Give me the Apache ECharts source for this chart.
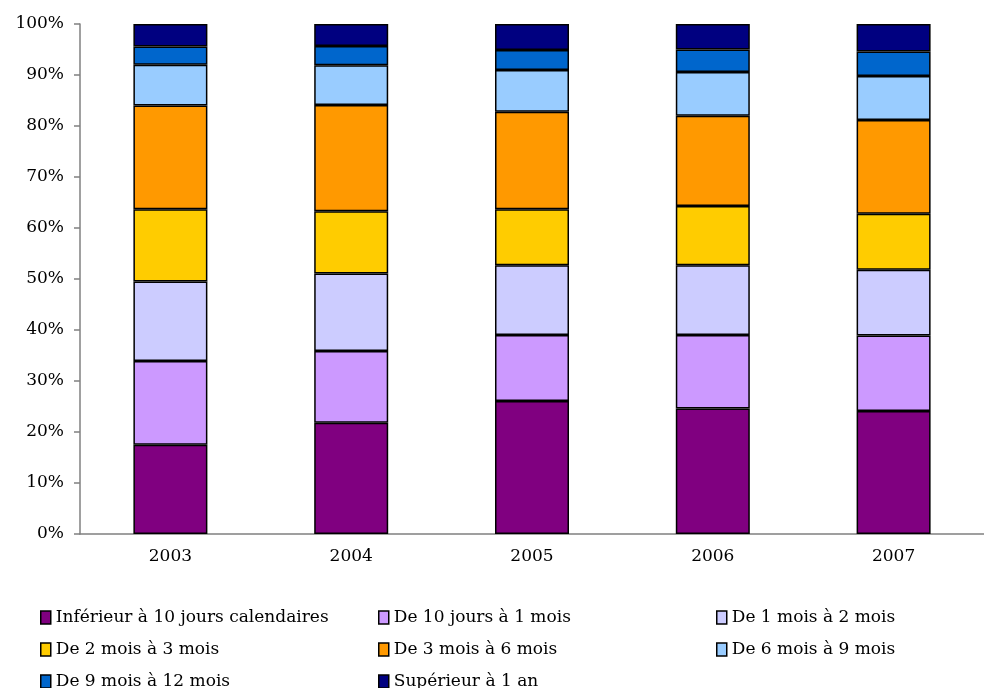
<!DOCTYPE html>
<html lang="fr">
<head>
	<meta charset="UTF-8">
	<title>duree-stacked</title>
	<script src="https://cdn.jsdelivr.net/npm/echarts@6/dist/echarts.min.js"></script>
</head>
<body style="margin:0;background:#fff;">
	<div id="container" style="width:984px;height:688px;"></div>

	<script>
		var years = ['2003', '2004', '2005', '2006', '2007'];
		var seriesNames = [
			'Inférieur à 10 jours calendaires',
			'De 10 jours à 1 mois',
			'De 1 mois à 2 mois',
			'De 2 mois à 3 mois',
			'De 3 mois à 6 mois',
			'De 6 mois à 9 mois',
			'De 9 mois à 12 mois',
			'Supérieur à 1 an'
		];
		var colors = ['#800080', '#cc99ff', '#ccccff', '#ffcc00', '#ff9900', '#99ccff', '#0066cc', '#000080'];

		// parts en % par annee
		var inf10j   = [17.5, 21.8, 26.1, 24.6, 24.1];
		var j10m1    = [16.4, 14.1, 12.9, 14.4, 14.8];
		var m1m2     = [15.6, 15.2, 13.7, 13.7, 12.9];
		var m2m3     = [14.2, 12.2, 11.0, 11.6, 11.0];
		var m3m6     = [20.3, 20.8, 19.1, 17.7, 18.4];
		var m6m9     = [8.0, 7.8, 8.2, 8.6, 8.6];
		var m9m12    = [3.6, 3.8, 3.9, 4.4, 4.8];
		var sup1an   = [4.4, 4.3, 5.1, 5.0, 5.4];
		var allData = [inf10j, j10m1, m1m2, m2m3, m3m6, m6m9, m9m12, sup1an];

		var yTicks = [0, 10, 20, 30, 40, 50, 60, 70, 80, 90, 100];

		var font = 'DejaVu Serif';
		var dom = document.getElementById('container');
		var myChart = echarts.init(dom);

		var series = seriesNames.map(function(name, i){
			return {
				name: name,
				type: 'bar',
				stack: 'total',
				barWidth: 74,
				data: allData[i],
				itemStyle: {
					color: colors[i],
					borderColor: '#000',
					borderWidth: 1.5
				},
				emphasis: {disabled: true}
			};
		});

		// legende en 3 colonnes, une entree par composant
		var colLeft = [35, 373, 711];
		var rowTop = [604, 636, 668];
		var legends = seriesNames.map(function(name, i){
			return {
				left: colLeft[i % 3],
				top: rowTop[Math.floor(i / 3)],
				itemWidth: 10,
				itemHeight: 13,
				itemGap: 0,
				icon: 'rect',
				selectedMode: false,
				data: [name],
				itemStyle: {borderColor: '#000', borderWidth: 1.5},
				textStyle: {fontFamily: font, fontSize: 17, color: '#000', padding: [0, 0, 0, 0]}
			};
		});

		var option = {
			animation: false,
			color: colors,
			grid: {left: 80, top: 24, width: 915, height: 510},
			legend: legends,
			xAxis: {
				type: 'category',
				data: years,
				axisLine: {lineStyle: {color: '#808080', width: 1.5}},
				axisTick: {length: 6, lineStyle: {color: '#808080', width: 1.5}},
				axisLabel: {fontFamily: font, fontSize: 17, color: '#000', margin: 14}
			},
			yAxis: {
				type: 'value',
				min: yTicks[0],
				max: yTicks[yTicks.length - 1],
				interval: 10,
				splitLine: {show: false},
				axisLine: {show: true, lineStyle: {color: '#808080', width: 1.5}},
				axisTick: {show: true, length: 6, lineStyle: {color: '#808080', width: 1.5}},
				axisLabel: {fontFamily: font, fontSize: 17, color: '#000', margin: 16, formatter: '{value}%'}
			},
			series: series
		};

		myChart.setOption(option);
	</script>
</body>
</html>
